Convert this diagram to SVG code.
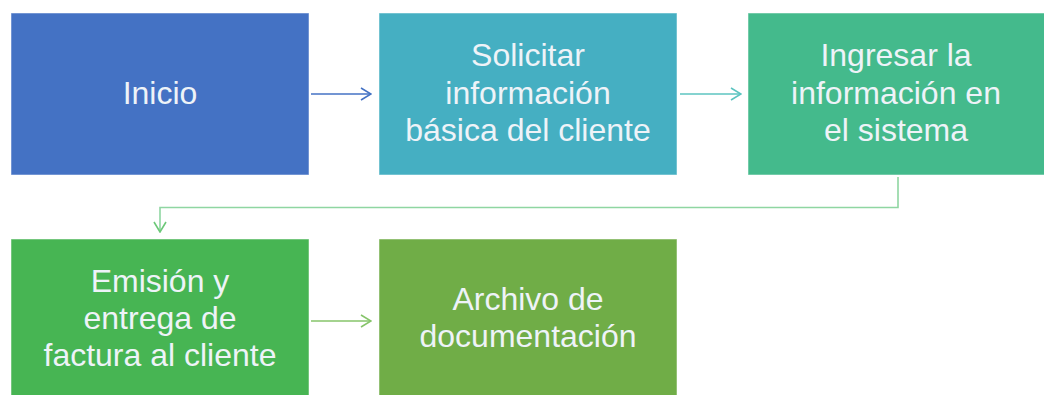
<svg xmlns="http://www.w3.org/2000/svg" width="1044" height="395" viewBox="0 0 1044 395">
<style>
.lbl{font-family:"Liberation Sans","Noto Sans",sans-serif;font-size:32px;fill:#eef3f8;text-anchor:middle}
.box{stroke:#ffffff;stroke-opacity:0.5;stroke-width:1}
.con{fill:none;stroke-width:1.6}
</style>
<defs>
<marker id="ab" markerWidth="12" markerHeight="14" refX="11" refY="7" orient="auto" markerUnits="userSpaceOnUse"><path d="M1,1 L11,7 L1,13" fill="none" stroke="#4472C4" stroke-width="1.6"/></marker>
<marker id="at" markerWidth="12" markerHeight="14" refX="11" refY="7" orient="auto" markerUnits="userSpaceOnUse"><path d="M1,1 L11,7 L1,13" fill="none" stroke="#5cc4c0" stroke-width="1.6"/></marker>
<marker id="ag" markerWidth="12" markerHeight="14" refX="11" refY="7" orient="auto" markerUnits="userSpaceOnUse"><path d="M1,1 L11,7 L1,13" fill="none" stroke="#6cc878" stroke-width="1.6"/></marker>
<marker id="ag2" markerWidth="12" markerHeight="14" refX="11" refY="7" orient="auto" markerUnits="userSpaceOnUse"><path d="M1,1 L11,7 L1,13" fill="none" stroke="#86c46a" stroke-width="1.6"/></marker>
</defs>
<rect width="1044" height="395" fill="#ffffff"/>
<g id="n1"><rect class="box" x="11" y="13" width="298" height="162" fill="#4472C4"/><text class="lbl" x="160" y="104">Inicio</text></g>
<g id="n2"><rect class="box" x="379" y="13" width="298" height="162" fill="#45AFC2"/><text class="lbl" x="528" y="66">Solicitar</text><text class="lbl" x="528" y="104">información</text><text class="lbl" x="528" y="141">básica del cliente</text></g>
<g id="n3"><rect class="box" x="748" y="13" width="298" height="162" fill="#44BA8C"/><text class="lbl" x="896" y="66">Ingresar la</text><text class="lbl" x="896" y="104">información en</text><text class="lbl" x="896" y="141">el sistema</text></g>
<g id="n4"><rect class="box" x="11" y="239" width="298" height="162" fill="#47B553"/><text class="lbl" x="160" y="292">Emisión y</text><text class="lbl" x="160" y="329">entrega de</text><text class="lbl" x="160" y="366">factura al cliente</text></g>
<g id="n5"><rect class="box" x="379" y="239" width="298" height="162" fill="#70AD47"/><text class="lbl" x="528" y="310">Archivo de</text><text class="lbl" x="528" y="347">documentación</text></g>
<g id="connectors">
<path class="con" d="M311,94 H371" stroke="#4472C4" marker-end="url(#ab)"/>
<path class="con" d="M680,94 H741" stroke="#5cc4c0" marker-end="url(#at)"/>
<path class="con" d="M898,177 V207.5 H160 V232" stroke="#8fd6a2" marker-end="url(#ag)"/>
<path class="con" d="M311,321 H371" stroke="#86c46a" marker-end="url(#ag2)"/>
</g>
</svg>
